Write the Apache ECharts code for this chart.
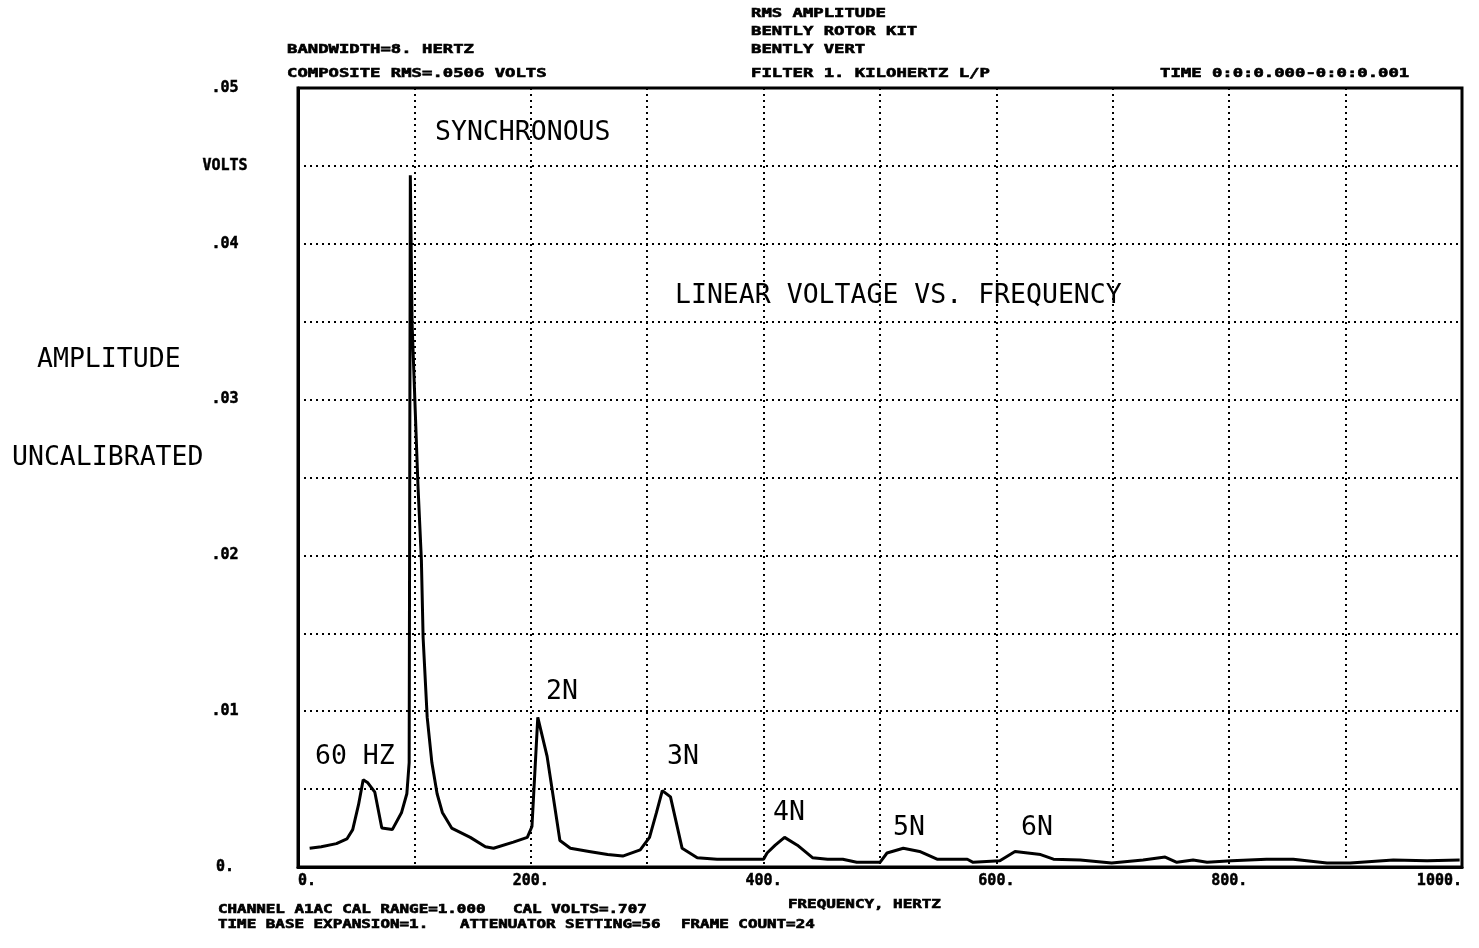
<!DOCTYPE html>
<html>
<head>
<meta charset="utf-8">
<script src="https://cdn.jsdelivr.net/npm/echarts@6/dist/echarts.min.js"></script>
<style>
  html, body { margin: 0; padding: 0; background: #fff; }
  #main { width: 1479px; height: 948px; }
</style>
</head>
<body>
<div id="main"></div>
<script>
  // spectrum trace (Hz, volts)
  var freq = [10, 20, 33, 42, 47, 52, 56, 60, 66, 72, 81, 89, 93.5, 95.5, 96, 96.5,
    98, 103, 106, 107.5, 111, 115, 119.5, 124, 132, 148, 161, 168, 185, 197, 201,
    206, 214, 225, 234, 250, 266, 279, 294, 302, 308, 313, 320, 330, 343, 360, 380,
    400, 403, 410, 418, 429, 442, 455, 468, 480, 500, 506, 520, 534, 549, 565, 575,
    580, 603, 616, 627, 638, 649, 672, 699, 726, 745, 755, 769, 781, 802, 832, 855,
    884, 904, 941, 970, 998]
  var volts = [0.0012, 0.0013, 0.0015, 0.0018, 0.0024, 0.0040, 0.0056, 0.0054, 0.0048,
    0.0025, 0.0024, 0.0035, 0.0047, 0.0067, 0.0250, 0.0444,
    0.0349, 0.0246, 0.0197, 0.0147, 0.0096, 0.0067, 0.0047, 0.0035, 0.0025, 0.0019,
    0.0013, 0.0012, 0.0016, 0.0019, 0.0026,
    0.0096, 0.0071, 0.0017, 0.0012, 0.0010, 0.0008, 0.0007, 0.0011, 0.0019, 0.0035,
    0.0049, 0.0045, 0.0012, 0.0006, 0.0005, 0.0005,
    0.0005, 0.0009, 0.0014, 0.0019, 0.0014, 0.0006, 0.0005, 0.0005, 0.0003, 0.0003,
    0.0009, 0.0012, 0.0010, 0.0005, 0.0005, 0.0005,
    0.0003, 0.0004, 0.0010, 0.0009, 0.0008, 0.0005, 0.00045, 0.00026, 0.00045,
    0.00064, 0.0003, 0.00045, 0.0003, 0.0004, 0.0005, 0.0005,
    0.00026, 0.00026, 0.00045, 0.0004, 0.00045]

  var yLabels = { 0: '0.', 10: '.01', 20: '.02', 30: '.03', 40: '.04', 45: 'VOLTS', 50: '.05' }
  var xLabelStep = 200

  var headLines = [
    ['BANDWIDTH=8. HERTZ', 287, 50],
    ['COMPOSITE RMS=.0506 VOLTS', 287, 74],
    ['RMS AMPLITUDE', 751, 14],
    ['BENTLY ROTOR KIT', 751, 32],
    ['BENTLY VERT', 751, 50],
    ['FILTER 1. KILOHERTZ L/P', 751, 74],
    ['TIME 0:0:0.000-0:0:0.001', 1160, 74]
  ]
  var footLines = [
    ['CHANNEL A1AC CAL RANGE=1.000', 218, 910],
    ['CAL VOLTS=.707', 513, 910],
    ['TIME BASE EXPANSION=1.', 218, 925],
    ['ATTENUATOR SETTING=56', 460, 925],
    ['FRAME COUNT=24', 681, 925],
    ['FREQUENCY, HERTZ', 788, 905]
  ]
  var notes = [
    ['SYNCHRONOUS', 435, 133],
    ['LINEAR VOLTAGE VS. FREQUENCY', 675, 296],
    ['AMPLITUDE', 37, 360],
    ['UNCALIBRATED', 12, 458],
    ['60 HZ', 315, 757],
    ['2N', 546, 692],
    ['3N', 667, 757],
    ['4N', 773, 813],
    ['5N', 893, 828],
    ['6N', 1021, 828]
  ]

  function blockText(t, x, y, size) {
    return {
      type: 'text', x: x, y: y, scaleX: 1.38,
      style: {
        text: t, fill: '#000', stroke: '#000', lineWidth: 0.6,
        font: 'bold ' + size + 'px "DejaVu Sans Mono"',
        textAlign: 'left', textVerticalAlign: 'middle'
      }
    }
  }
  function noteText(t, x, y) {
    return {
      type: 'text', x: x, y: y,
      style: {
        text: t, fill: '#000',
        font: '26.5px "DejaVu Sans Mono"',
        textAlign: 'left', textVerticalAlign: 'middle'
      }
    }
  }

  var graphics = []
  headLines.forEach(function (h) { graphics.push(blockText(h[0], h[1], h[2], 12.5)) })
  footLines.forEach(function (h) { graphics.push(blockText(h[0], h[1], h[2], 11.5)) })
  notes.forEach(function (n) { graphics.push(noteText(n[0], n[1], n[2])) })

  var dotted = { color: '#000', width: 2, type: [2, 4] }
  var tickFont = {
    color: '#000', fontFamily: 'DejaVu Sans Mono', fontWeight: 'bold', fontSize: 15,
    textBorderColor: '#000', textBorderWidth: 0.5
  }

  var option = {
    backgroundColor: '#fff',
    animation: false,
    grid: {
      left: 298, right: 17, top: 88, bottom: 81,
      show: true, borderColor: '#000', borderWidth: 3
    },
    xAxis: {
      type: 'value', min: 0, max: 1000, interval: 100,
      axisLine: { show: true, lineStyle: { color: '#000', width: 3 } },
      axisTick: { show: false },
      splitLine: { show: true, lineStyle: dotted },
      axisLabel: Object.assign({}, tickFont, {
        margin: 7, alignMinLabel: 'left', alignMaxLabel: 'right',
        formatter: function (v) { return v % xLabelStep === 0 ? v + '.' : '' }
      })
    },
    yAxis: {
      type: 'value', min: 0, max: 0.05, interval: 0.005,
      axisLine: { show: true, lineStyle: { color: '#000', width: 3 } },
      axisTick: { show: false },
      splitLine: { show: true, lineStyle: dotted },
      axisLabel: Object.assign({}, tickFont, {
        align: 'center', margin: 73,
        formatter: function (v) {
          var k = Math.round(v * 1000)
          return yLabels[k] !== undefined ? yLabels[k] : ''
        }
      })
    },
    series: [{
      type: 'line',
      data: freq.map(function (f, i) { return [f, volts[i]] }),
      showSymbol: false,
      lineStyle: { color: '#000', width: 3 },
      z: 5
    }],
    graphic: graphics
  }

  var chart = echarts.init(document.getElementById('main'))
  chart.setOption(option)
</script>
</body>
</html>
